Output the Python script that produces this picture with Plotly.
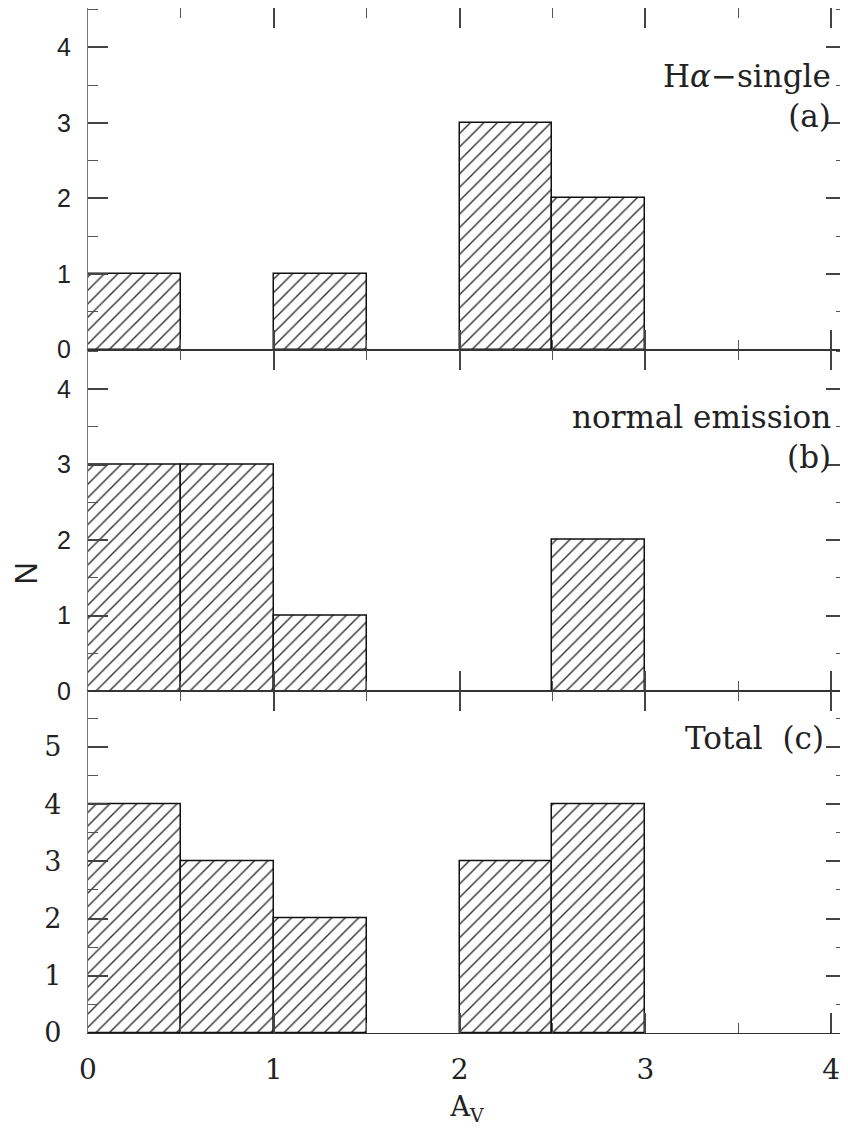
import plotly.graph_objects as go
from plotly.subplots import make_subplots

# Histogram bins (A_V) and counts
bin_left = [0.0, 0.5, 1.0, 1.5, 2.0, 2.5, 3.0, 3.5]
bin_width = 0.5
counts_a = [1, 0, 1, 0, 3, 2, 0, 0]   # H-alpha single
counts_b = [3, 3, 1, 0, 0, 2, 0, 0]   # normal emission
counts_c = [4, 3, 2, 0, 3, 4, 0, 0]   # Total

panel_labels = ["H<i>α</i>−single<br>(a)", "normal emission<br>(b)", "Total  (c)"]
y_ranges = [[0, 4.52], [0, 4.52], [0, 5.97]]
x_range = [0, 4.08]
x_ticks = [0, 1, 2, 3, 4]

SERIF = "DejaVu Serif"
SANS = "Liberation Sans"

fig = make_subplots(rows=3, cols=1, shared_xaxes=True, vertical_spacing=0)

for i, counts in enumerate([counts_a, counts_b, counts_c]):
    xs = [l + bin_width / 2 for l, c in zip(bin_left, counts) if c > 0]
    ys = [c for c in counts if c > 0]
    fig.add_trace(go.Bar(
        x=xs, y=ys, width=bin_width,
        marker=dict(color="white",
                    line=dict(color="#111", width=1.5),
                    pattern=dict(shape="/", size=9.5, solidity=0.15,
                                 fgcolor="#333", bgcolor="white", fillmode="replace")),
        showlegend=False, hoverinfo="skip"), row=i + 1, col=1)

axis_common = dict(showline=True, linewidth=1.3, mirror="ticks",
                   ticks="inside", ticklen=20, tickwidth=1.5, tickcolor="#444",
                   showgrid=False, zeroline=False, automargin=False)

for i in range(3):
    fig.update_xaxes(range=x_range, tickvals=x_ticks, linecolor="#333",
                     minor=dict(ticks="inside", ticklen=10, tickwidth=1.3,
                                tickcolor="#555", dtick=0.5, tick0=0, showgrid=False),
                     showticklabels=(i == 2), row=i + 1, col=1, **axis_common)
    fig.update_yaxes(range=y_ranges[i], dtick=1, tick0=0, linecolor="#777",
                     minor=dict(ticks="inside", ticklen=10, tickwidth=1.3,
                                tickcolor="#555", dtick=0.5, tick0=0, showgrid=False),
                     row=i + 1, col=1, **axis_common)

fig.update_yaxes(tickfont=dict(family=SANS, size=25, color="#222"), ticklabelstandoff=11, row=1, col=1)
fig.update_yaxes(tickfont=dict(family=SANS, size=25, color="#222"), ticklabelstandoff=11, row=2, col=1)
fig.update_yaxes(tickfont=dict(family=SERIF, size=27, color="#222"), ticklabelstandoff=20, row=3, col=1)
fig.update_xaxes(tickfont=dict(family=SERIF, size=28, color="#222"), ticklabelstandoff=11,
                 title=dict(text="A<sub>V</sub>", font=dict(family=SERIF, size=27, color="#222"),
                            standoff=12), row=3, col=1)

# panel labels
ann_pos = [(4.01, 3.35, "x", "y"), (4.01, 3.37, "x2", "y2"), (3.97, 5.16, "x3", "y3")]
for (ax, ay, xr, yr), txt in zip(ann_pos, panel_labels):
    fig.add_annotation(x=ax, y=ay, xref=xr, yref=yr, text=txt, showarrow=False,
                       xanchor="right", yanchor="middle", align="right",
                       font=dict(family=SERIF, size=31, color="#222"))

fig.add_annotation(x=-0.081, y=0.448, xref="paper", yref="paper", text="N",
                   textangle=-90, showarrow=False, xanchor="center", yanchor="middle",
                   font=dict(family=SANS, size=31, color="#222"))

# page body has an 8px margin: size the figure so the plot lands where the reference has it
fig.update_layout(width=840, height=1127, margin=dict(l=80, r=2, t=0, b=102),
                  paper_bgcolor="white", plot_bgcolor="white", bargap=0)

fig.write_html("out.html")
